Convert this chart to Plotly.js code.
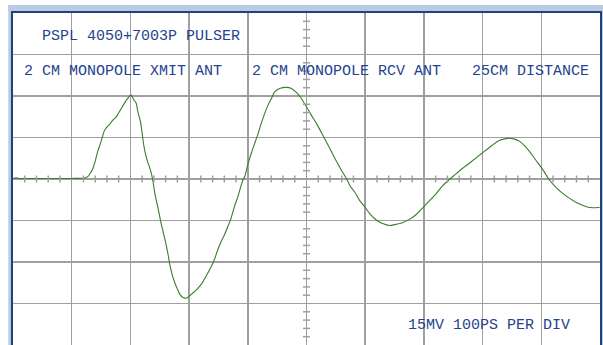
<!DOCTYPE html>
<html>
<head>
<meta charset="utf-8">
<script src="https://cdn.plot.ly/plotly-3.0.1.min.js"></script>
<style>
html,body{margin:0;padding:0;background:#fff;}
#chart{width:603px;height:345px;}
</style>
</head>
<body>
<div id="chart"></div>
<script>
// Time axis in ps (100 ps/div), voltage in mV (15 mV/div)
var timePs = [0, 5, 10, 40, 100, 122.1, 127.8, 131.9, 135.3, 137.5, 139.7, 142.1, 144.3, 146.5, 148.9, 151.1, 153.3, 155.0, 159.1, 164.7, 170.4, 176.2, 180.6, 184.7, 188.6, 193.2, 197.6, 201.0,
  205.6, 209.9, 212.4, 215.8, 217.6, 220.4, 222.7, 226.1, 229.5, 232.9, 236.3, 238.5, 242.6, 247.0, 251.6, 255.5, 260.1, 264.1, 267.0, 270.9, 275.5, 280.1, 284.0, 289.6, 295.4,
  301.0, 312.4, 321.5, 329.5, 338.0, 343.6, 349.2, 355.0, 360.6, 366.3, 370.9, 374.8, 379.4, 383.3, 387.4, 391.8, 394.7, 400.3, 406.1, 411.8, 417.4, 423.2, 428.8, 434.4, 440.2, 445.8,
  454.3, 465.8, 474.3, 482.8, 491.3, 499.8, 508.4, 516.9, 525.4, 533.9, 542.4, 551.0, 559.5, 568.0, 574.8, 582.1, 590.6, 599.1, 607.6, 619.0, 629.8, 641.7, 651.9, 662.2, 675.8,
  686.0, 698.0, 709.9, 721.8, 732.0, 743.9, 760.9, 777.9, 800.0, 817.1, 829.0, 842.7, 852.9, 863.1, 873.4, 885.3, 893.8, 902.9, 912.6, 925.7, 942.8, 959.8, 976.8, 988.1, 999.5];
var voltMv = [0.2, 0.4, 0.2, 0.2, 0.2, 0.36, 0.94, 2.16, 3.35, 4.78, 6.12, 8.13, 9.93, 11.37, 12.81, 14.39, 15.93, 17.12, 18.56, 19.78, 21.33, 22.52, 24.10, 25.54, 26.98, 28.52, 29.71, 30.4,
  28.7, 27.4, 24.6, 21.9, 20.3, 15.9, 12.3, 8.7, 6.1, 4.1, 1.5, -1.0, -6.3, -10.4, -15.3, -18.9, -23.0, -27.2, -30.8, -34.4, -37.4, -39.8, -41.6, -42.8, -43.1,
  -42.2, -40.1, -37.8, -34.9, -31.5, -28.8, -25.4, -22.4, -20.0, -17.0, -14.6, -11.7, -8.6, -6.3, -3.2, -0.25, 0.8, 5.5, 9.4, 12.9, 16.3, 20.3, 23.7, 26.7, 29.1, 31.5,
  32.7, 33.1, 32.7, 31.3, 29.1, 26.1, 23.0, 20.1, 16.8, 13.4, 9.9, 6.4, 3.2, 0.1, -2.7, -4.7, -7.8, -10.0, -12.5, -14.8, -16.1, -16.8, -16.4, -15.9, -14.5,
  -13.0, -10.4, -7.8, -5.1, -2.4, -0.1, 3.0, 5.8, 9.5, 12.3, 14.0, 14.7, 14.5, 13.6, 11.6, 8.4, 5.9, 3.3, 0, -3.2, -6.2, -8.5, -10.0, -10.4, -10.2];

var labelTexts = ["PSPL 4050+7003P PULSER", "2 CM MONOPOLE XMIT ANT", "2 CM MONOPOLE RCV ANT", "25CM DISTANCE", "15MV 100PS PER DIV"];

var xDiv = 100, yDiv = 15, xRange = [0, 1000], yRange = [-60, 60];
var gridCol = '#a0a0a0', textCol = '#25428f', borderCol = '#20407e', bandCol = '#b9cbe0';

var shapes = [];
// outer light frame band (outside the plot area only)
shapes.push({type:'rect', xref:'paper', yref:'paper', x0:-0.008, x1:1.01, y0:1.004, y1:1.0241, fillcolor:bandCol, line:{width:0}, layer:'below'});
shapes.push({type:'rect', xref:'paper', yref:'paper', x0:-0.008, x1:-0.0025, y0:-0.05, y1:1.0241, fillcolor:bandCol, line:{width:0}, layer:'below'});
shapes.push({type:'rect', xref:'paper', yref:'paper', x0:1.0025, x1:1.01, y0:-0.05, y1:1.0241, fillcolor:bandCol, line:{width:0}, layer:'below'});
// minor ticks on the center cross
for (var t = xRange[0]; t <= xRange[1]; t += xDiv/5) {
  if (Math.abs(t % xDiv) < 1e-6) continue;
  shapes.push({type:'line', xref:'x', yref:'y', x0:t, x1:t, ysizemode:'pixel', yanchor:0, y0:-3.5, y1:3.5,
    line:{color:gridCol, width:1.5}});
}
for (var v = yRange[0]; v <= yRange[1]; v += yDiv/5) {
  if (Math.abs(v % yDiv) < 1e-6) continue;
  shapes.push({type:'line', xref:'x', yref:'y', y0:v, y1:v, xsizemode:'pixel', xanchor:500, x0:-3.5, x1:3.5,
    line:{color:gridCol, width:1.5}});
}

var labelPos = [[0.0455, 0.9298], [0.0153, 0.8253], [0.4043, 0.8253], [0.7780, 0.8253], [0.6700, 0.0602]];
var annotations = labelTexts.map(function(s, i){
  return {text:s, xref:'paper', yref:'paper', x:labelPos[i][0], y:labelPos[i][1], xanchor:'left', yanchor:'middle',
    showarrow:false, font:{family:'Liberation Mono, DejaVu Sans Mono, monospace', size:15, color:textCol}};
});

var trace = {x:timePs, y:voltMv, mode:'lines', type:'scatter', line:{color:'#3a7d2c', width:1.1, shape:'spline', smoothing:0.6},
  hoverinfo:'none'};

var layout = {
  width:603, height:345,
  margin:{l:13, r:3, t:13, b:0, pad:0},
  paper_bgcolor:'#ffffff', plot_bgcolor:'#ffffff',
  showlegend:false,
  xaxis:{range:xRange, dtick:xDiv, tick0:0, showgrid:true, gridcolor:gridCol, gridwidth:1.5, zeroline:false,
    showticklabels:false, ticks:'', showline:true, mirror:true, linecolor:borderCol, linewidth:2, fixedrange:true},
  yaxis:{range:yRange, dtick:yDiv, tick0:0, showgrid:true, gridcolor:gridCol, gridwidth:1.5, zeroline:false,
    showticklabels:false, ticks:'', showline:true, mirror:true, linecolor:borderCol, linewidth:2, fixedrange:true},
  shapes:shapes,
  annotations:annotations
};

Plotly.newPlot('chart', [trace], layout, {staticPlot:true, displayModeBar:false});
</script>
</body>
</html>
